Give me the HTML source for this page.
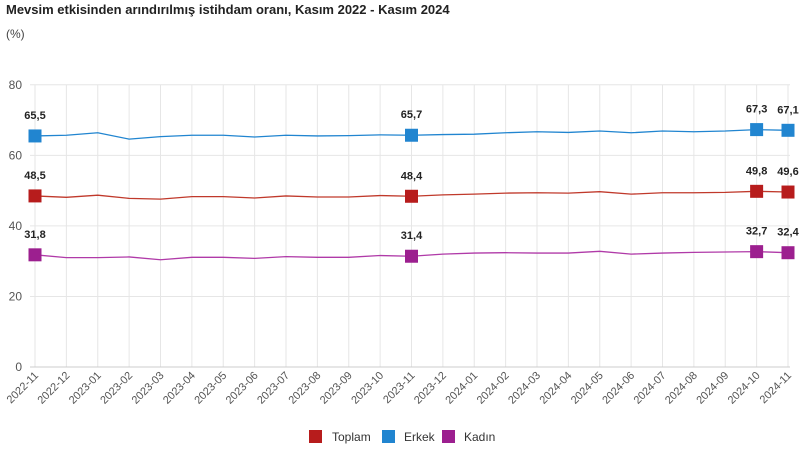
<!DOCTYPE html>
<html><head><meta charset="utf-8"><style>
body{margin:0;background:#fff;width:805px;height:450px;overflow:hidden;font-family:"Liberation Sans",sans-serif}
</style></head><body>
<svg width="805" height="450" xmlns="http://www.w3.org/2000/svg" font-family="Liberation Sans, sans-serif">
<text x="6" y="14" font-size="13" font-weight="bold" fill="#222">Mevsim etkisinden arındırılmış istihdam oranı, Kasım 2022 - Kasım 2024</text>
<text x="6" y="38" font-size="12" fill="#444">(%)</text>
<g id="grid" stroke="#e6e6e6" stroke-width="1"></g>
<g id="ylab" font-size="12" fill="#555" text-anchor="end"></g>
<g id="xlab" font-size="11" fill="#555"></g>
<g id="series"></g>
<g font-size="12" fill="#333">
<rect x="309" y="430" width="13" height="13" fill="#b71c1c"/><text x="332" y="441">Toplam</text>
<rect x="382" y="430" width="13" height="13" fill="#2185d0"/><text x="404" y="441">Erkek</text>
<rect x="442" y="430" width="13" height="13" fill="#9c1f8f"/><text x="464" y="441">Kadın</text>
</g>
</svg>
<script>
const ns="http://www.w3.org/2000/svg";
const X=i=>35+i*31.375, Y=v=>367-v*3.5275;
function el(p,t,a,txt){const e=document.createElementNS(ns,t);for(const k in a)e.setAttribute(k,a[k]);if(txt!==undefined)e.textContent=txt;document.getElementById(p)?document.getElementById(p).appendChild(e):p.appendChild(e);return e;}
const labels=[];for(let i=0;i<25;i++){const y=2022+Math.floor((10+i)/12),m=(10+i)%12+1;labels.push(y+"-"+String(m).padStart(2,"0"));}
for(let i=0;i<25;i++){el("grid","line",{x1:X(i),x2:X(i),y1:85,y2:367});
 el("xlab","text",{x:0,y:0,transform:`translate(${X(i)+4},${376}) rotate(-45)`,"text-anchor":"end"},labels[i]);}
for(let v=0;v<=80;v+=20){el("grid","line",{x1:30,x2:790,y1:Y(v),y2:Y(v),stroke:v==0?"#ccc":"#e6e6e6"});el("ylab","text",{x:22,y:Y(v)+4},v);}
const S=[
["#2185d0",[65.5,65.7,66.4,64.6,65.3,65.7,65.7,65.2,65.7,65.5,65.6,65.8,65.7,65.9,66.0,66.4,66.7,66.5,66.9,66.4,66.9,66.7,66.9,67.3,67.1]],
["#c0392b",[48.5,48.1,48.7,47.8,47.6,48.3,48.3,47.9,48.5,48.2,48.2,48.6,48.4,48.8,49.0,49.3,49.4,49.3,49.7,49.0,49.4,49.4,49.5,49.8,49.6],"#b71c1c"],
["#b03aa8",[31.8,31.0,31.0,31.2,30.4,31.1,31.1,30.8,31.3,31.1,31.1,31.6,31.4,32.0,32.3,32.4,32.3,32.3,32.8,32.0,32.3,32.5,32.6,32.7,32.4],"#9c1f8f"]];
const g=document.getElementById("series");
S.forEach(([c,d,mc])=>{el(g,"polyline",{points:d.map((v,i)=>X(i)+","+Y(v)).join(" "),fill:"none",stroke:c,"stroke-width":1.3});
 [0,12,23,24].forEach(i=>{el(g,"rect",{x:X(i)-6.5,y:Y(d[i])-6.5,width:13,height:13,fill:mc||c});
  el(g,"text",{x:X(i),y:Y(d[i])-17,"text-anchor":"middle","font-size":"11","font-weight":"bold",fill:"#222"},String(d[i].toFixed(1)).replace(".",","));});});
</script>
</body></html>
